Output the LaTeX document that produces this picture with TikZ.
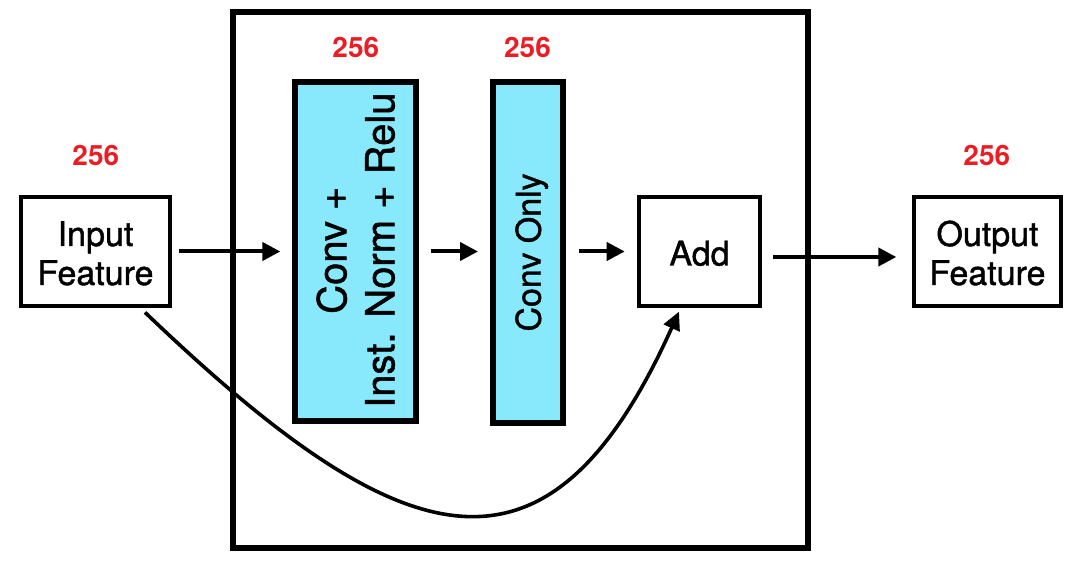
\documentclass[tikz,border=0pt]{standalone}
\usepackage{fontspec}
\setmainfont{TeX Gyre Heros}
\newfontfamily\medfont{TeX Gyre Heros}[FakeBold=1.2]
\usetikzlibrary{arrows.meta}
\definecolor{cyanfill}{RGB}{136,232,252}
\definecolor{numred}{RGB}{236,28,36}
\begin{document}
\begin{tikzpicture}[x=1pt,y=-1pt,
  wbox/.style={draw, line width=4pt, inner sep=0pt, align=center,
    font=\medfont\fontsize{34}{39}\selectfont},
  cbox/.style={draw, fill=cyanfill, line width=6pt, inner sep=0pt},
  rtext/.style={rotate=90, inner sep=0pt, align=center},
  numlbl/.style={text=numred, inner sep=0pt, font=\bfseries\fontsize{28}{30}\selectfont},
  arr/.style={line width=4pt, -{Triangle[length=18pt,width=18pt]}},
  carr/.style={line width=3.6pt, -{Triangle[length=18pt,width=17pt]}}
]
\useasboundingbox (0,0) rectangle (1082,564);

% outer block
\node (blk) [draw, line width=5.5pt, minimum width=575pt, minimum height=536pt, inner sep=0pt] at (520.5,280) {};

% boxes
\node (inp) [wbox, minimum width=148.4pt, minimum height=109.7pt] at (95.5,251.5) {\rule{0pt}{28.5pt}Input\\Feature};
\node (c1) [cbox, minimum width=120.7pt, minimum height=339pt] at (355.7,251.5) {};
\node (c2) [cbox, minimum width=70pt, minimum height=340pt] at (528,252.5) {};
\node (add) [wbox, minimum width=121.6pt, minimum height=109.7pt] at (699.5,251.5) {\rule{0pt}{28.5pt}Add};
\node (out) [wbox, minimum width=147.6pt, minimum height=109.7pt] at (987.5,251.5) {\rule{0pt}{28.5pt}Output\\Feature};

% rotated texts
\node (c1t) [rtext, font=\medfont\fontsize{40}{48}\selectfont, xshift=1.3pt] at (c1.center) {Conv +\\Inst. Norm + Relu};
\node (c2t) [rtext, font=\medfont\fontsize{34}{40}\selectfont, text depth=0pt] at (c2.center) {Conv Only};

% channel numbers
\node (n1) [numlbl] at (95.8,155.7) {256};
\node (n2) [numlbl] at (355.8,47.5) {256};
\node (n3) [numlbl] at (527.5,47.5) {256};
\node (n4) [numlbl] at (986.8,155.7) {256};

% arrows
\draw[arr] ([xshift=7pt]inp.east) -- ([xshift=-12pt]c1.west);
\draw[arr] ([xshift=11.7pt]c1.east) -- ([xshift=-12pt]c1.east -| c2.west);
\draw[arr] ([xshift=13pt]c2.east |- add.west) -- ([xshift=-12pt]add.west);
\draw[arr] ([shift={(10.7,5.5)}]add.east) -- ([shift={(-15.4,5.5)}]out.west);

% skip connection
\draw[carr] ([shift={(49.5,4)}]inp.south) .. controls +(259,248) and +(-131,291) .. ([shift={(-20.5,3.3)}]add.south);
\end{tikzpicture}
\end{document}
